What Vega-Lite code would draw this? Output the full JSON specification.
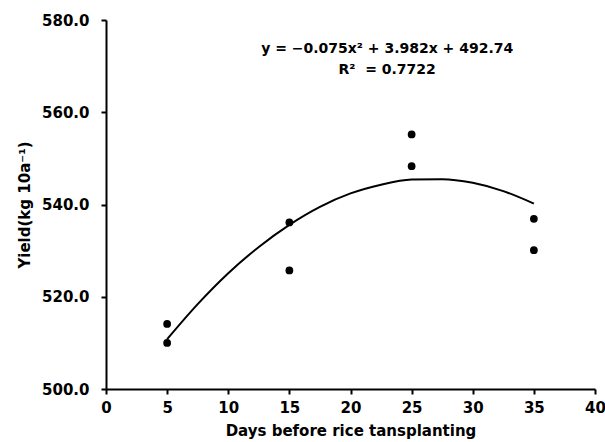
{
  "$schema": "https://vega.github.io/schema/vega-lite/v6.json",
  "width": 489,
  "height": 369,
  "autosize": "none",
  "padding": {"left": 106, "top": 20, "right": 10, "bottom": 53},
  "background": "white",
  "config": {
    "view": {"stroke": null},
    "font": "DejaVu Sans",
    "axis": {
      "grid": false,
      "domainColor": "black",
      "domainWidth": 2,
      "tickColor": "black",
      "tickWidth": 2,
      "tickSize": 5,
      "labelFont": "DejaVu Sans",
      "labelFontWeight": "bold",
      "labelFontSize": 15,
      "labelColor": "black",
      "titleFont": "DejaVu Sans",
      "titleFontWeight": "bold",
      "titleFontSize": 15,
      "titleColor": "black"
    }
  },
  "datasets": {
    "points": [
      {"days": 5, "yield": 514.1},
      {"days": 5, "yield": 510.0},
      {"days": 15, "yield": 536.1},
      {"days": 15, "yield": 525.7},
      {"days": 25, "yield": 555.2},
      {"days": 25, "yield": 548.3},
      {"days": 35, "yield": 536.9},
      {"days": 35, "yield": 530.1}
    ],
    "curve": [
      {"days": 5, "yield": 510.8},
      {"days": 7.5, "yield": 518.4},
      {"days": 10, "yield": 525.1},
      {"days": 12.5, "yield": 530.8},
      {"days": 15, "yield": 535.6},
      {"days": 17.5, "yield": 539.5},
      {"days": 20, "yield": 542.4},
      {"days": 22.5, "yield": 544.3},
      {"days": 25, "yield": 545.4},
      {"days": 27.5, "yield": 545.5},
      {"days": 30, "yield": 544.7},
      {"days": 32.5, "yield": 542.9},
      {"days": 35, "yield": 540.2}
    ],
    "labels": [
      {"days": 23, "yield": 573.7, "text": "y = −0.075x² + 3.982x + 492.74"},
      {"days": 23, "yield": 569.1, "text": "R²\u00a0\u00a0= 0.7722"}
    ]
  },
  "layer": [
    {
      "data": {"name": "curve"},
      "mark": {"type": "line", "color": "black", "strokeWidth": 2, "interpolate": "monotone"},
      "encoding": {
        "x": {
          "field": "days", "type": "quantitative",
          "scale": {"domain": [0, 40], "nice": false},
          "axis": {"values": [0, 5, 10, 15, 20, 25, 30, 35, 40], "title": "Days before rice tansplanting", "labelPadding": 6, "titlePadding": 8, "labelFlush": false}
        },
        "y": {
          "field": "yield", "type": "quantitative",
          "scale": {"domain": [500, 580], "nice": false, "zero": false},
          "axis": {"values": [500, 520, 540, 560, 580], "format": ".1f", "title": "Yield(kg 10a⁻¹)", "labelPadding": 12, "titlePadding": 9, "labelFlush": false}
        }
      }
    },
    {
      "data": {"name": "points"},
      "mark": {"type": "circle", "color": "black", "opacity": 1, "size": 60},
      "encoding": {
        "x": {"field": "days", "type": "quantitative"},
        "y": {"field": "yield", "type": "quantitative"}
      }
    },
    {
      "data": {"name": "labels"},
      "mark": {"type": "text", "font": "DejaVu Sans", "fontWeight": "bold", "fontSize": 14, "color": "black", "align": "center", "baseline": "middle"},
      "encoding": {
        "x": {"field": "days", "type": "quantitative"},
        "y": {"field": "yield", "type": "quantitative"},
        "text": {"field": "text"}
      }
    }
  ]
}
